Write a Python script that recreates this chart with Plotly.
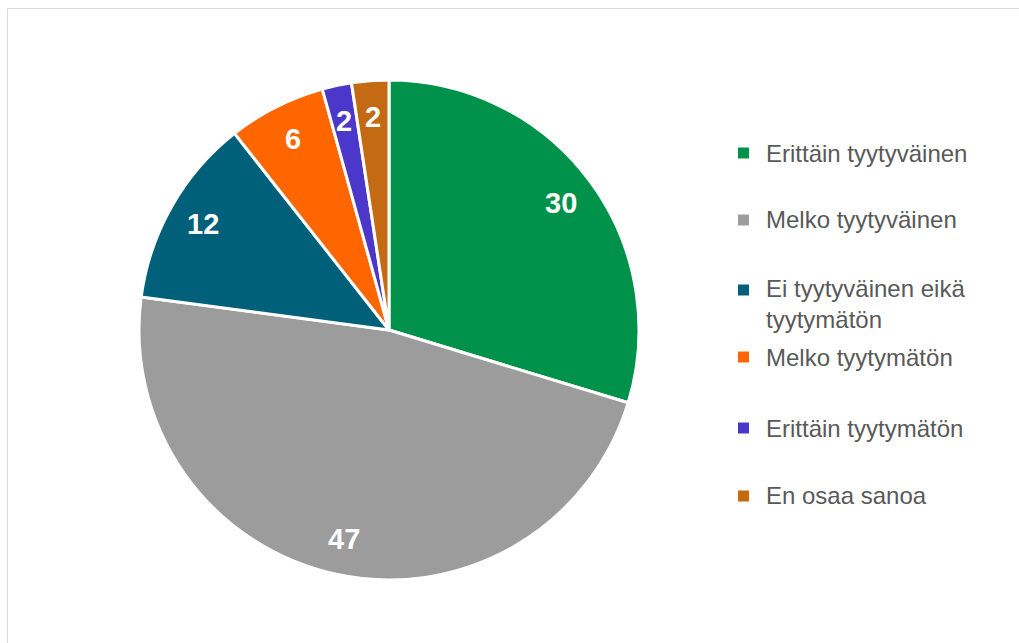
import numpy as np
import plotly.graph_objects as go

W, H = 1019, 643

categories = [
    "Erittäin tyytyväinen",
    "Melko tyytyväinen",
    "Ei tyytyväinen eikä<br>tyytymätön",
    "Melko tyytymätön",
    "Erittäin tyytymätön",
    "En osaa sanoa",
]
values = [29.7, 47.4, 12.3, 6.3, 1.9, 2.4]
colors = ["#00924A", "#9C9C9C", "#00607A", "#FF6600", "#4B37C9", "#C46A12"]


def px(x):
    return x / W


def py(y):
    return 1 - y / H


# pie geometry in pixels
CX, CY, R = 389, 330, 250
LABEL_R = 0.855 * R

fig = go.Figure()
fig.add_trace(go.Pie(
    labels=categories,
    values=values,
    sort=False,
    direction="clockwise",
    rotation=0,
    marker=dict(colors=colors, line=dict(color="white", width=3)),
    textposition="none",
    domain=dict(x=[px(CX - R), px(CX + R)], y=[py(CY + R), py(CY - R)]),
    showlegend=False,
    hoverinfo="label+value",
))

annotations = []
shapes = []

# data labels placed near the outer edge of each slice (Excel style)
vals = np.array(values, dtype=float)
cum = np.cumsum(vals)
mid = (cum - vals / 2) / vals.sum() * 2 * np.pi
for v, th in zip(vals, mid):
    lx = CX + LABEL_R * np.sin(th)
    ly = CY - LABEL_R * np.cos(th)
    annotations.append(dict(text=f"{v:.0f}", xref="paper", yref="paper",
                            x=px(lx), y=py(ly), xanchor="center", yanchor="middle",
                            showarrow=False,
                            font=dict(family="Liberation Sans, Arial, sans-serif", size=29,
                                      color="white", weight="bold")))

# manual legend (Excel style spacing)
legend_y = [153, 220, 304, 357, 428, 496]
marker_y = [153, 220, 290, 357, 428, 496]
for cat, col, ty, my in zip(categories, colors, legend_y, marker_y):
    shapes.append(dict(type="rect", xref="paper", yref="paper",
                       x0=px(738), x1=px(749), y0=py(my + 5.5), y1=py(my - 5.5),
                       fillcolor=col, line=dict(width=0)))
    annotations.append(dict(text=cat, xref="paper", yref="paper",
                            x=px(764), y=py(ty), xanchor="left", yanchor="middle",
                            showarrow=False, align="left",
                            font=dict(family="Liberation Sans, Arial, sans-serif", size=24, color="#595959")))

# chart-area border
shapes.append(dict(type="rect", xref="paper", yref="paper",
                   x0=px(7.5), x1=px(1040), y0=py(660), y1=py(8.5),
                   line=dict(color="#D9D9D9", width=1), fillcolor="rgba(0,0,0,0)"))

fig.update_layout(
    width=W, height=H,
    margin=dict(l=0, r=0, t=0, b=0),
    paper_bgcolor="white",
    plot_bgcolor="white",
    shapes=shapes,
    annotations=annotations,
)

fig.write_html("out.html", config={"displayModeBar": False},
               post_script="document.body.style.margin='0';document.body.style.overflow='hidden';")
